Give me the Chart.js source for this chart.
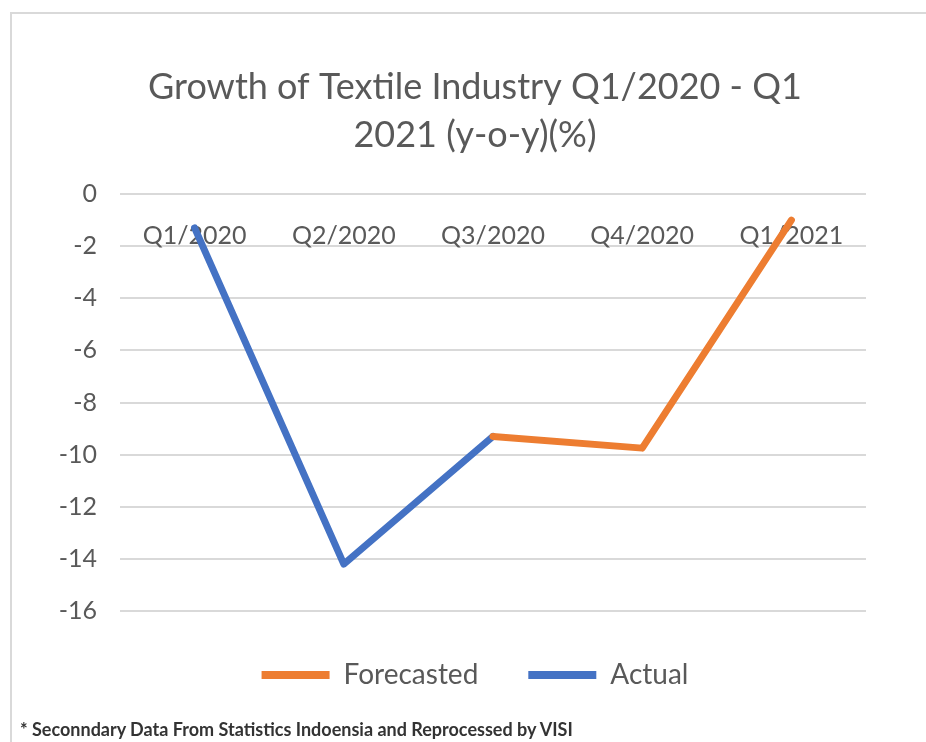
<!DOCTYPE html>
<html>
<head>
<meta charset="utf-8">
<script src="https://cdn.jsdelivr.net/npm/chart.js@4.4.1/dist/chart.umd.min.js"></script>
<style>
  html, body { margin: 0; padding: 0; background: #fff; overflow: hidden; }
  #frame {
    position: absolute; left: 10px; top: 12px; width: 940px; height: 760px;
    border: 2px solid #d9d9d9; box-sizing: border-box;
  }
  #wrap { position: absolute; left: 0; top: 0; width: 926px; height: 742px; }
  #note {
    position: absolute; left: 20px; top: 718px;
    font-family: Lato, "Liberation Sans", sans-serif; font-weight: bold;
    font-size: 18px; color: #333; white-space: nowrap;
  }
</style>
</head>
<body>
<div id="frame"></div>
<div id="wrap"><canvas id="lineChart"></canvas></div>
<div id="note">* Seconndary Data From Statistics Indoensia and Reprocessed by VISI</div>
<script>
const quarters = ["Q1/2020", "Q2/2020", "Q3/2020", "Q4/2020", "Q1/2021"];
const forecasted = [null, null, -9.3, -9.75, -1.0];
const actual = [-1.3, -14.2, -9.3, null, null];
const titleLines = ["Growth of Textile Industry Q1/2020 - Q1", "2021 (y-o-y)(%)"];

const font = "Lato, 'Liberation Sans', sans-serif";
const grey = "#595959";

const ctx = document.getElementById("lineChart").getContext("2d");

const lineChart = new Chart(ctx, {
    type: "line",
    data: {
        labels: quarters,
        datasets: [
            {
                label: "Forecasted",
                data: forecasted,
                borderColor: "#ED7D31",
                backgroundColor: "#ED7D31",
                borderWidth: 7,
                pointRadius: 0,
                borderCapStyle: "round",
                borderJoinStyle: "round",
            },
            {
                label: "Actual",
                data: actual,
                borderColor: "#4472C4",
                backgroundColor: "#4472C4",
                borderWidth: 7,
                pointRadius: 0,
                borderCapStyle: "round",
                borderJoinStyle: "round",
            },
        ],
    },
    options: {
        responsive: true,
        maintainAspectRatio: false,
        animation: false,
        layout: {
            padding: { left: 55, right: 31, top: 0, bottom: 43 },
        },
        scales: {
            x: {
                offset: true,
                position: { y: 0 },
                grid: { display: false, drawTicks: false },
                border: { display: false },
                ticks: {
                    color: grey,
                    font: { family: font, size: 25 },
                    padding: 27,
                    maxRotation: 0,
                },
            },
            y: {
                min: -16,
                max: 0,
                grid: { color: "#d9d9d9", lineWidth: 2, drawTicks: false },
                border: { display: false },
                ticks: {
                    stepSize: 2,
                    color: grey,
                    font: { family: font, size: 25 },
                    padding: 23,
                },
                afterFit: function (scale) {
                    scale.width = 65;
                },
            },
            // empty spacer on the right so the title/legend centre matches
            y2: {
                position: "right",
                grid: { display: false, drawOnChartArea: false, drawTicks: false },
                border: { display: false },
                ticks: { display: false },
                afterFit: function (scale) {
                    scale.width = 29;
                },
            },
        },
        plugins: {
            title: {
                display: true,
                text: titleLines,
                color: grey,
                font: { family: font, size: 36, weight: "normal", lineHeight: 1.32 },
                padding: { top: 64, bottom: 35 },
            },
            legend: {
                position: "bottom",
                labels: {
                    color: grey,
                    font: { family: font, size: 28 },
                    boxWidth: 68,
                    boxHeight: 8,
                    padding: 50,
                    generateLabels: function (chart) {
                        const items = Chart.defaults.plugins.legend.labels.generateLabels(chart);
                        items.forEach(function (item) {
                            item.lineWidth = 0;
                        });
                        return items;
                    },
                },
            },
            tooltip: { enabled: false },
        },
    },
});
</script>
</body>
</html>
